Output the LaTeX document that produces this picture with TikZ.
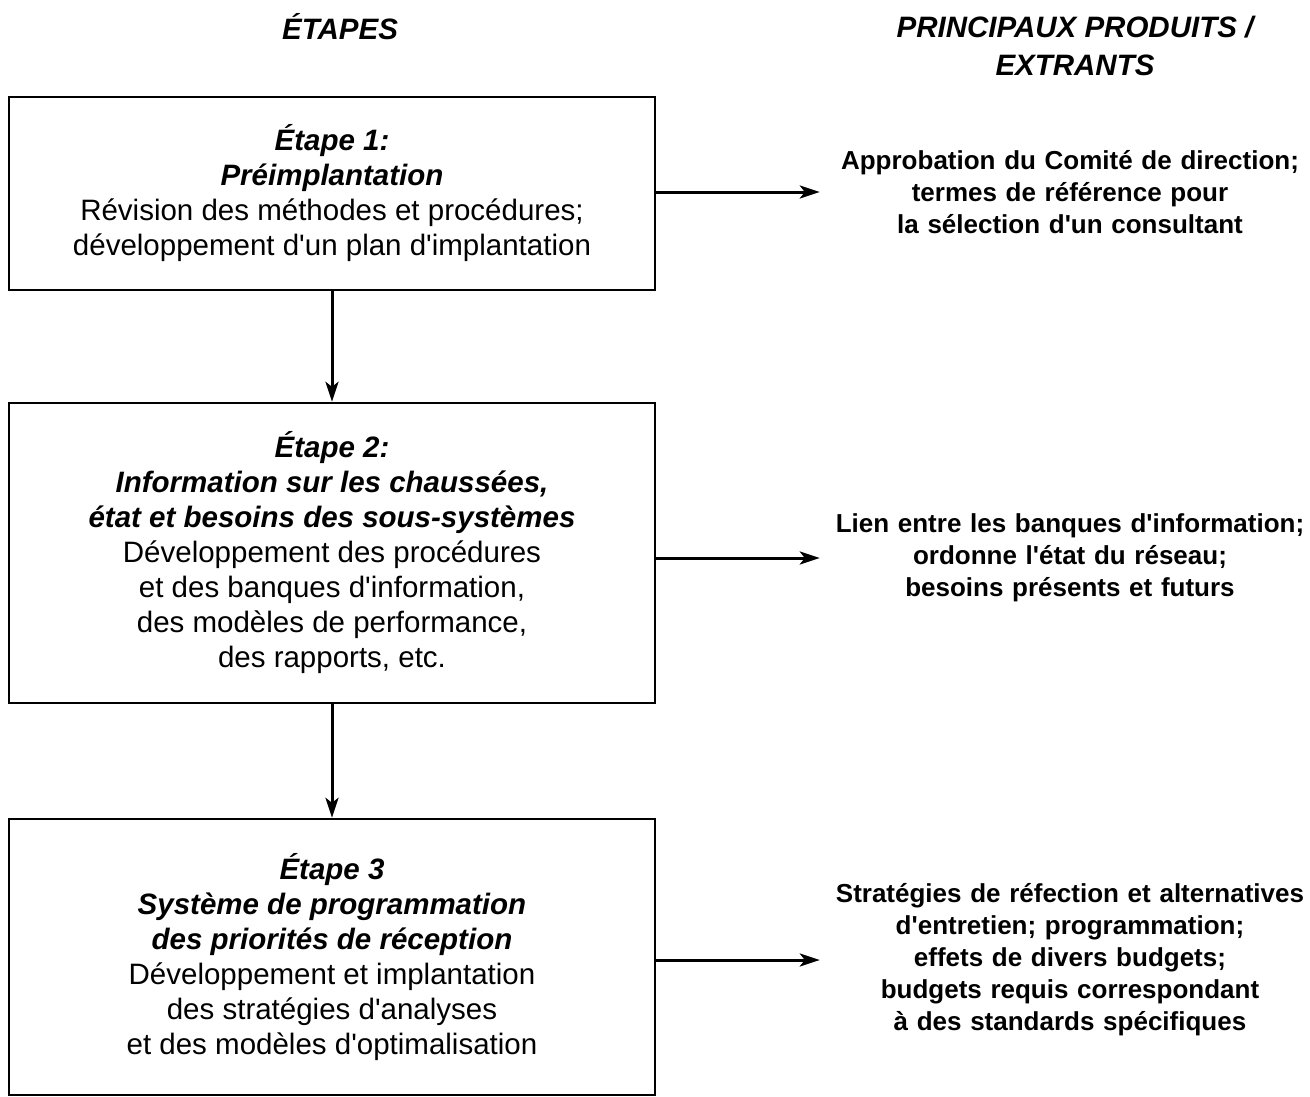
\documentclass[tikz,border=0pt]{standalone}
\usepackage{fontspec}
\setmainfont{Liberation Sans}[Ligatures=TeXOff]
\usetikzlibrary{arrows.meta}
\newcommand{\stepTitle}[1]{\textbf{\textit{#1}}}

\begin{document}
\begin{tikzpicture}[x=1pt,y=-1pt,%%
  boxStyle/.style={draw,line width=2.4pt,minimum width=646pt,inner sep=0pt,
    align=center,font=\fontsize{29.5}{35}\selectfont},%%
  outStyle/.style={text width=500pt,inner sep=0pt,align=center,
    font=\fontsize{26}{32}\selectfont\bfseries},%%
  headStyle/.style={inner sep=0pt,align=center,
    font=\fontsize{29.5}{38}\selectfont\bfseries\itshape},%%
  arrowStyle/.style={-{Stealth[length=20pt,width=13pt,inset=5pt]},line width=3pt}
]
\useasboundingbox (0,0) rectangle (1310,1096);
%%
%% Column headings.
\node[headStyle] (hEtapes) at (340,27) {ÉTAPES};
\node[headStyle] (hProduits) at (1075,46) {PRINCIPAUX PRODUITS /\\EXTRANTS};
%%
%% The three stages.
\node[boxStyle,minimum height=193pt] (b1) at (332,193.5) {%%
  \stepTitle{Étape 1:}\\ \stepTitle{Préimplantation}\\
  Révision des méthodes et procédures;\\
  développement d'un plan d'implantation};
\node[boxStyle,minimum height=300pt] (b2) at (332,553) {%%
  \stepTitle{Étape 2:}\\ \stepTitle{Information sur les chaussées,}\\
  \stepTitle{état et besoins des sous-systèmes}\\
  Développement des procédures\\ et des banques d'information,\\
  des modèles de performance,\\ des rapports, etc.};
\node[boxStyle,minimum height=276pt] (b3) at (332,957) {%%
  \stepTitle{Étape 3}\\ \stepTitle{Système de programmation}\\
  \stepTitle{des priorités de réception}\\
  Développement et implantation\\ des stratégies d'analyses\\
  et des modèles d'optimalisation};
%%
%% The products of each stage.
\node[outStyle] (o1) at (1070,192) {Approbation du Comité de direction;\\
  termes de référence pour\\ la sélection d'un consultant};
\node[outStyle] (o2) at (1070,558) {Lien entre les banques d'information;\\
  ordonne l'état du réseau;\\ besoins présents et futurs};
\node[outStyle] (o3) at (1070,960) {Stratégies de réfection et alternatives\\
  d'entretien; programmation;\\ effets de divers budgets;\\
  budgets requis correspondant\\ à des standards spécifiques};
%%
%% Arrows.
\draw[arrowStyle] (b1) -- (b2);
\draw[arrowStyle] (b2) -- (b3);
\foreach \i in {1,2,3}{
  \draw[arrowStyle,shorten >=0pt] (b\i.east |- o\i.west) -- (o\i.west);
}
\end{tikzpicture}
\end{document}
